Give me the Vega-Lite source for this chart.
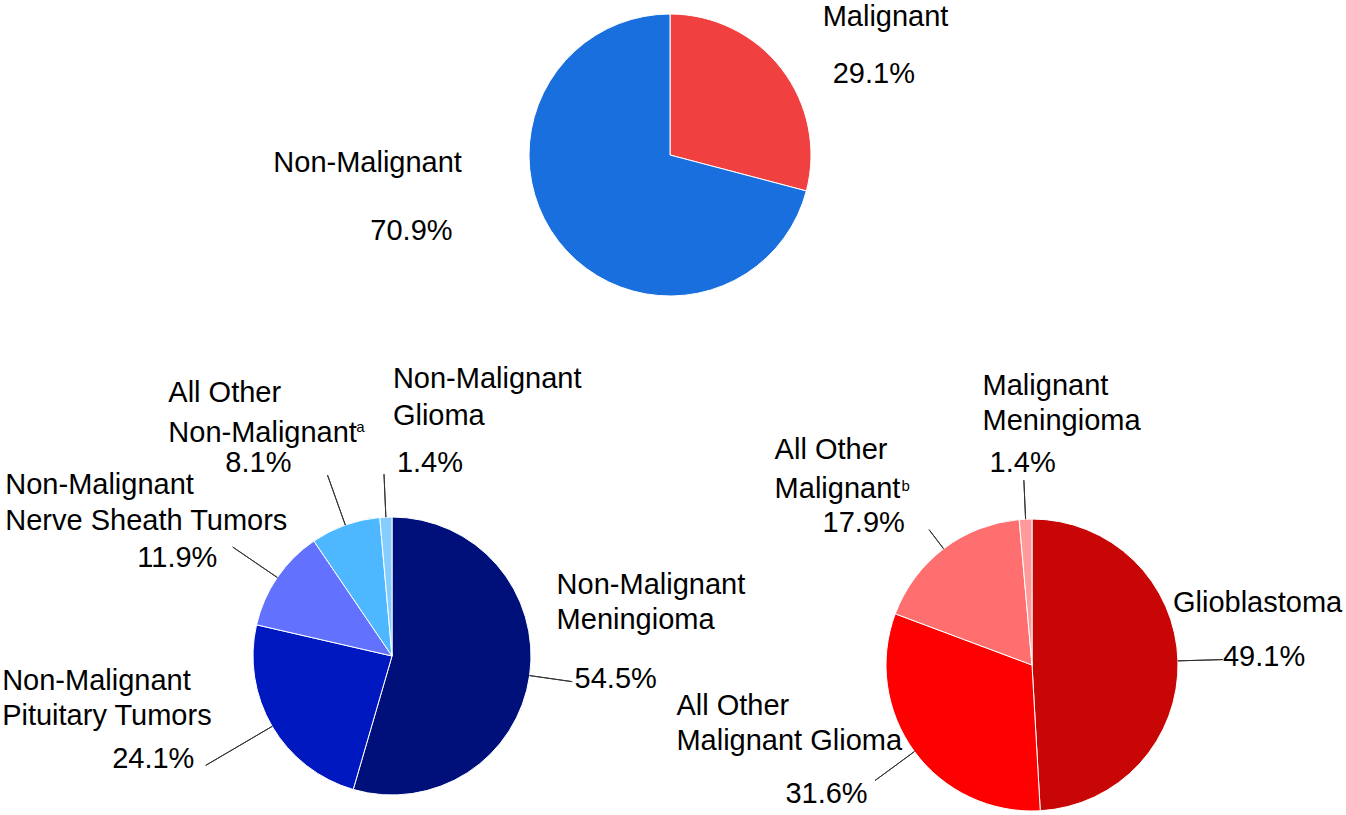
{
  "$schema": "https://vega.github.io/schema/vega-lite/v6.json",
  "autosize": {"type": "pad"},
  "padding": 0,
  "background": "white",
  "bounds": "flush",
  "spacing": 205,
  "resolve": {"scale": {"color": "independent", "theta": "independent"}},
  "config": {
    "view": {"stroke": null},
    "text": {"font": "Liberation Sans", "fontSize": 29, "fill": "#000000", "align": "left", "baseline": "alphabetic", "lineBreak": "\n", "lineHeight": 35}
  },
  "vconcat": [
    {
      "width": 1340,
      "height": 310,
      "data": {"values": [
        {"i": 1, "name": "Malignant", "share": 0.291, "label": "Malignant"},
        {"i": 2, "name": "Non-Malignant", "share": 0.709, "label": "Non-Malignant"}
      ]},
      "layer": [
        {
          "mark": {"type": "arc", "outerRadius": 141, "stroke": "#ffffff", "strokeWidth": 1},
          "encoding": {
            "theta": {"field": "share", "type": "quantitative", "stack": true, "scale": {"domain": [0, 1]}},
            "order": {"field": "i", "type": "quantitative"},
            "color": {"field": "name", "type": "nominal", "legend": null, "scale": {"domain": ["Malignant", "Non-Malignant"], "range": ["#F04040", "#1A6FDE"]}}
          }
        },
        {
          "transform": [
            {"stack": "share", "groupby": [], "sort": [{"field": "i", "order": "ascending"}], "as": ["a0", "a1"]},
            {"fold": ["a0", "a1"], "as": ["k", "a"]},
            {"aggregate": [{"op": "mean", "field": "a", "as": "mid"}], "groupby": ["name", "label", "share"]}
          ],
          "encoding": {"theta": {"field": "mid", "type": "quantitative", "stack": null}},
          "layer": [
            {
              "transform": [{"filter": {"field": "name", "equal": "Malignant"}}],
              "layer": [
                {"mark": {"type": "text", "radius": 141, "dx": 41, "dy": -43}, "encoding": {"text": {"field": "label"}}},
                {"mark": {"type": "text", "radius": 141, "dx": 51, "dy": 14}, "encoding": {"text": {"field": "share", "type": "quantitative", "format": ".1%"}}}
              ]
            },
            {
              "transform": [{"filter": {"field": "name", "equal": "Non-Malignant"}}],
              "layer": [
                {"mark": {"type": "text", "radius": 141, "dx": -285, "dy": -69}, "encoding": {"text": {"field": "label"}}},
                {"mark": {"type": "text", "radius": 141, "dx": -188, "dy": -1}, "encoding": {"text": {"field": "share", "type": "quantitative", "format": ".1%"}}}
              ]
            }
          ]
        }
      ]
    },
    {
      "hconcat": [
        {
          "width": 784,
          "height": 282,
          "data": {"values": [
            {"i": 1, "name": "Non-Malignant Meningioma", "share": 0.545, "label": "Non-Malignant\nMeningioma"},
            {"i": 2, "name": "Non-Malignant Pituitary Tumors", "share": 0.241, "label": "Non-Malignant\nPituitary Tumors"},
            {"i": 3, "name": "Non-Malignant Nerve Sheath Tumors", "share": 0.119, "label": "Non-Malignant\nNerve Sheath Tumors"},
            {"i": 4, "name": "All Other Non-Malignant", "share": 0.081, "label": "All Other\nNon-Malignant"},
            {"i": 5, "name": "Non-Malignant Glioma", "share": 0.014, "label": "Non-Malignant\nGlioma"}
          ]},
          "layer": [
            {
              "mark": {"type": "arc", "outerRadius": 139, "stroke": "#ffffff", "strokeWidth": 1},
              "encoding": {
                "theta": {"field": "share", "type": "quantitative", "stack": true, "scale": {"domain": [0, 1]}},
                "order": {"field": "i", "type": "quantitative"},
                "color": {"field": "name", "type": "nominal", "legend": null, "scale": {
                  "domain": ["Non-Malignant Meningioma", "Non-Malignant Pituitary Tumors", "Non-Malignant Nerve Sheath Tumors", "All Other Non-Malignant", "Non-Malignant Glioma"],
                  "range": ["#00107A", "#0018C0", "#6272FF", "#4DB8FF", "#85CCFF"]}}
              }
            },
            {
              "transform": [
                {"stack": "share", "groupby": [], "sort": [{"field": "i", "order": "ascending"}], "as": ["a0", "a1"]},
                {"fold": ["a0", "a1"], "as": ["k", "a"]},
                {"aggregate": [{"op": "mean", "field": "a", "as": "mid"}], "groupby": ["name", "label", "share"]}
              ],
              "encoding": {"theta": {"field": "mid", "type": "quantitative", "stack": null}},
              "layer": [
                {
                  "transform": [{"filter": {"field": "name", "equal": "Non-Malignant Meningioma"}}],
                  "layer": [
                    {"mark": {"type": "arc", "innerRadius": 139, "outerRadius": 182, "stroke": "#333333", "strokeWidth": 1, "fill": "transparent"}, "encoding": {"theta2": {"field": "mid"}}},
                    {"mark": {"type": "text", "radius": 139, "dx": 27, "dy": -82}, "encoding": {"text": {"field": "label"}}},
                    {"mark": {"type": "text", "radius": 139, "dx": 45, "dy": 12}, "encoding": {"text": {"field": "share", "type": "quantitative", "format": ".1%"}}}
                  ]
                },
                {
                  "transform": [{"filter": {"field": "name", "equal": "Non-Malignant Pituitary Tumors"}}],
                  "layer": [
                    {"mark": {"type": "arc", "innerRadius": 139, "outerRadius": 216, "stroke": "#333333", "strokeWidth": 1, "fill": "transparent"}, "encoding": {"theta2": {"field": "mid"}}},
                    {"mark": {"type": "text", "radius": 139, "dx": -270, "dy": -36}, "encoding": {"text": {"field": "label"}}},
                    {"mark": {"type": "text", "radius": 139, "dx": -160, "dy": 42}, "encoding": {"text": {"field": "share", "type": "quantitative", "format": ".1%"}}}
                  ]
                },
                {
                  "transform": [{"filter": {"field": "name", "equal": "Non-Malignant Nerve Sheath Tumors"}}],
                  "layer": [
                    {"mark": {"type": "arc", "innerRadius": 139, "outerRadius": 193, "stroke": "#333333", "strokeWidth": 1, "fill": "transparent"}, "encoding": {"theta2": {"field": "mid"}}},
                    {"mark": {"type": "text", "radius": 139, "dx": -272, "dy": -84, "lineHeight": 36.5}, "encoding": {"text": {"field": "label"}}},
                    {"mark": {"type": "text", "radius": 139, "dx": -140, "dy": -11}, "encoding": {"text": {"field": "share", "type": "quantitative", "format": ".1%"}}}
                  ]
                },
                {
                  "transform": [{"filter": {"field": "name", "equal": "All Other Non-Malignant"}}],
                  "layer": [
                    {"mark": {"type": "arc", "innerRadius": 139, "outerRadius": 192, "stroke": "#333333", "strokeWidth": 1, "fill": "transparent"}, "encoding": {"theta2": {"field": "mid"}}},
                    {"mark": {"type": "text", "radius": 139, "dx": -177, "dy": -123, "lineHeight": 40}, "encoding": {"text": {"field": "label"}}},
                    {"mark": {"type": "text", "radius": 139, "dx": 11, "dy": -93, "fontSize": 15}, "encoding": {"text": {"value": "a"}}},
                    {"mark": {"type": "text", "radius": 139, "dx": -120, "dy": -53}, "encoding": {"text": {"field": "share", "type": "quantitative", "format": ".1%"}}}
                  ]
                },
                {
                  "transform": [{"filter": {"field": "name", "equal": "Non-Malignant Glioma"}}],
                  "layer": [
                    {"mark": {"type": "arc", "innerRadius": 139, "outerRadius": 182, "stroke": "#333333", "strokeWidth": 1, "fill": "transparent"}, "encoding": {"theta2": {"field": "mid"}}},
                    {"mark": {"type": "text", "radius": 139, "dx": 7, "dy": -129, "lineHeight": 36.5}, "encoding": {"text": {"field": "label"}}},
                    {"mark": {"type": "text", "radius": 139, "dx": 11, "dy": -45}, "encoding": {"text": {"field": "share", "type": "quantitative", "format": ".1%"}}}
                  ]
                }
              ]
            }
          ]
        },
        {
          "width": 496,
          "height": 300,
          "data": {"values": [
            {"i": 1, "name": "Glioblastoma", "share": 0.491, "label": "Glioblastoma"},
            {"i": 2, "name": "All Other Malignant Glioma", "share": 0.316, "label": "All Other\nMalignant Glioma"},
            {"i": 3, "name": "All Other Malignant", "share": 0.179, "label": "All Other\nMalignant"},
            {"i": 4, "name": "Malignant Meningioma", "share": 0.014, "label": "Malignant\nMeningioma"}
          ]},
          "layer": [
            {
              "mark": {"type": "arc", "outerRadius": 146, "stroke": "#ffffff", "strokeWidth": 1},
              "encoding": {
                "theta": {"field": "share", "type": "quantitative", "stack": true, "scale": {"domain": [0, 1]}},
                "order": {"field": "i", "type": "quantitative"},
                "color": {"field": "name", "type": "nominal", "legend": null, "scale": {
                  "domain": ["Glioblastoma", "All Other Malignant Glioma", "All Other Malignant", "Malignant Meningioma"],
                  "range": ["#C80606", "#FF0000", "#FF6F6F", "#FF9A9A"]}}
              }
            },
            {
              "transform": [
                {"stack": "share", "groupby": [], "sort": [{"field": "i", "order": "ascending"}], "as": ["a0", "a1"]},
                {"fold": ["a0", "a1"], "as": ["k", "a"]},
                {"aggregate": [{"op": "mean", "field": "a", "as": "mid"}], "groupby": ["name", "label", "share"]}
              ],
              "encoding": {"theta": {"field": "mid", "type": "quantitative", "stack": null}},
              "layer": [
                {
                  "transform": [{"filter": {"field": "name", "equal": "Glioblastoma"}}],
                  "layer": [
                    {"mark": {"type": "arc", "innerRadius": 146, "outerRadius": 191, "stroke": "#333333", "strokeWidth": 1, "fill": "transparent"}, "encoding": {"theta2": {"field": "mid"}}},
                    {"mark": {"type": "text", "radius": 146, "dx": -5, "dy": -49}, "encoding": {"text": {"field": "label"}}},
                    {"mark": {"type": "text", "radius": 146, "dx": 45, "dy": 5}, "encoding": {"text": {"field": "share", "type": "quantitative", "format": ".1%"}}}
                  ]
                },
                {
                  "transform": [{"filter": {"field": "name", "equal": "All Other Malignant Glioma"}}],
                  "layer": [
                    {"mark": {"type": "arc", "innerRadius": 146, "outerRadius": 195, "stroke": "#333333", "strokeWidth": 1, "fill": "transparent"}, "encoding": {"theta2": {"field": "mid"}}},
                    {"mark": {"type": "text", "radius": 146, "dx": -238, "dy": -37}, "encoding": {"text": {"field": "label"}}},
                    {"mark": {"type": "text", "radius": 146, "dx": -129, "dy": 51}, "encoding": {"text": {"field": "share", "type": "quantitative", "format": ".1%"}}}
                  ]
                },
                {
                  "transform": [{"filter": {"field": "name", "equal": "All Other Malignant"}}],
                  "layer": [
                    {"mark": {"type": "arc", "innerRadius": 146, "outerRadius": 170, "stroke": "#333333", "strokeWidth": 1, "fill": "transparent"}, "encoding": {"theta2": {"field": "mid"}}},
                    {"mark": {"type": "text", "radius": 146, "dx": -169, "dy": -90, "lineHeight": 39}, "encoding": {"text": {"field": "label"}}},
                    {"mark": {"type": "text", "radius": 146, "dx": -42, "dy": -58, "fontSize": 15}, "encoding": {"text": {"value": "b"}}},
                    {"mark": {"type": "text", "radius": 146, "dx": -121, "dy": -17}, "encoding": {"text": {"field": "share", "type": "quantitative", "format": ".1%"}}}
                  ]
                },
                {
                  "transform": [{"filter": {"field": "name", "equal": "Malignant Meningioma"}}],
                  "layer": [
                    {"mark": {"type": "arc", "innerRadius": 146, "outerRadius": 185, "stroke": "#333333", "strokeWidth": 1, "fill": "transparent"}, "encoding": {"theta2": {"field": "mid"}}},
                    {"mark": {"type": "text", "radius": 146, "dx": -43, "dy": -124}, "encoding": {"text": {"field": "label"}}},
                    {"mark": {"type": "text", "radius": 146, "dx": -36, "dy": -47}, "encoding": {"text": {"field": "share", "type": "quantitative", "format": ".1%"}}}
                  ]
                }
              ]
            }
          ]
        }
      ],
      "spacing": 0,
      "bounds": "flush",
      "resolve": {"scale": {"color": "independent", "theta": "independent"}}
    }
  ]
}
